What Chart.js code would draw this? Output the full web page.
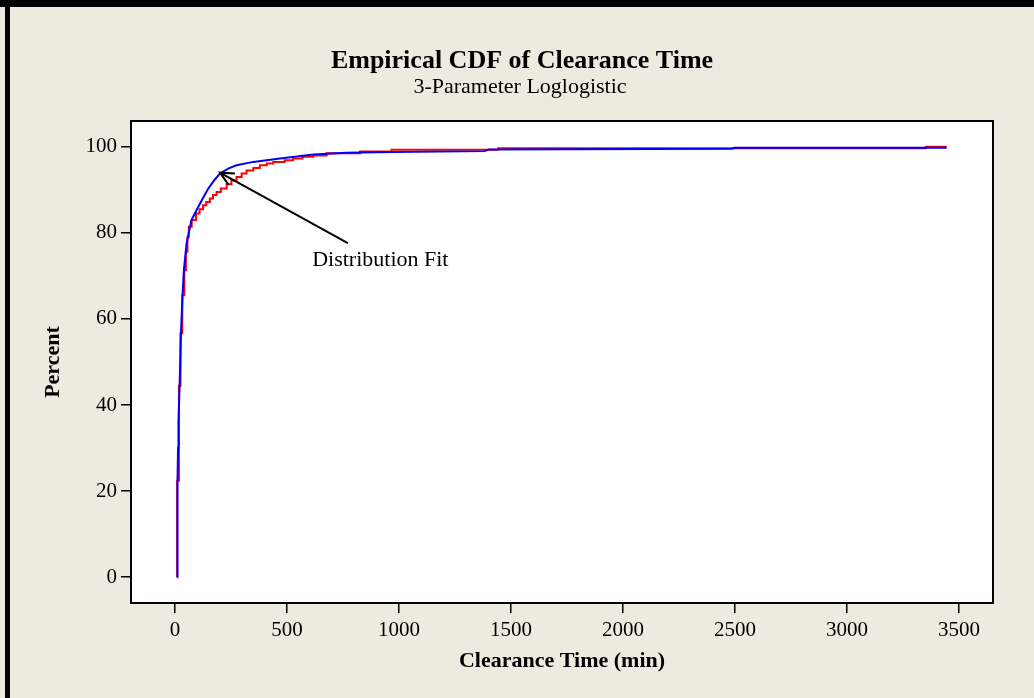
<!DOCTYPE html>
<html>
<head>
<meta charset="utf-8">
<script src="https://cdn.jsdelivr.net/npm/chart.js@4/dist/chart.umd.min.js"></script>
<style>
  html, body { margin: 0; padding: 0; background: #EEEAE0; }
  canvas { display: block; }
</style>
</head>
<body>
<canvas id="c" width="1034" height="698"></canvas>
<script>
// ---- Data ----
const chartTitle = "Empirical CDF of Clearance Time";
const chartSubtitle = "3-Parameter Loglogistic";
const xAxisTitle = "Clearance Time (min)";
const yAxisTitle = "Percent";
const annotationText = "Distribution Fit";

const xTicks = [0, 500, 1000, 1500, 2000, 2500, 3000, 3500];
const yTicks = [0, 20, 40, 60, 80, 100];

// Empirical CDF (red, step)
const empX = [10, 10, 18, 25, 33, 42, 49, 56, 62, 75, 94, 110, 126, 140, 156, 170, 186, 205, 231, 252, 275, 298, 320, 350, 379, 410, 439, 490, 528, 570, 618, 677, 826, 967, 1443, 3352, 3445];
const empY = [0, 22.4, 44.5, 56.7, 65.5, 71.3, 75.6, 79.0, 81.4, 83.0, 84.5, 85.5, 86.4, 87.2, 88.0, 88.8, 89.5, 90.3, 91.3, 92.2, 93.0, 93.8, 94.5, 95.1, 95.7, 96.1, 96.5, 96.9, 97.3, 97.7, 98.0, 98.5, 98.9, 99.3, 99.65, 100, 100];

// Fitted distribution (blue)
const fitX = [10, 11, 12, 14, 16, 21, 27, 34, 40, 52, 74, 97, 120, 149, 175, 201, 240, 275, 350, 469, 618, 640, 766, 975, 1384, 1400, 2485, 2500, 3445];
const fitY = [0, 12, 22, 30, 36, 44.5, 56.7, 65.5, 71.3, 77.5, 83.0, 85.3, 87.6, 90.3, 92.2, 93.8, 95.0, 95.7, 96.5, 97.3, 98.2, 98.3, 98.6, 98.8, 99.0, 99.4, 99.55, 99.8, 99.8];

// ---- Styling / layout constants ----
const BG = "#EEEAE0";
const SERIF = "'Liberation Serif', 'Times New Roman', serif";
const annotation = { tail: { x: 772, y: 77.6 }, head: { x: 201, y: 94.0 }, label: { x: 917, y: 73.7 } };

const toPts = (xs, ys) => xs.map((x, i) => ({ x: x, y: ys[i] }));

const decorPlugin = {
  id: 'decor',
  beforeDraw(chart) {
    const ctx = chart.ctx;
    const W = chart.width, H = chart.height;
    ctx.save();
    ctx.fillStyle = BG;
    ctx.fillRect(0, 0, W, H);
    // outer frame (top and left)
    ctx.fillStyle = "#000";
    ctx.fillRect(0, 0, W, 7);
    ctx.fillRect(5, 0, 5, H);
    // plot area
    const a = chart.chartArea;
    ctx.fillStyle = "#FFFFFF";
    ctx.fillRect(a.left, a.top, a.right - a.left, a.bottom - a.top);
    ctx.restore();
  },
  afterDraw(chart) {
    const ctx = chart.ctx;
    const a = chart.chartArea;
    const xs = chart.scales.x, ys = chart.scales.y;
    ctx.save();
    // plot frame
    ctx.strokeStyle = "#000";
    ctx.lineWidth = 2;
    ctx.strokeRect(a.left, a.top, a.right - a.left, a.bottom - a.top);

    // titles
    ctx.fillStyle = "#000";
    ctx.textAlign = "center";
    ctx.textBaseline = "middle";
    ctx.font = "bold 26px " + SERIF;
    ctx.fillText(chartTitle, 522, 61);
    ctx.font = "22px " + SERIF;
    ctx.fillText(chartSubtitle, 520, 87);

    // axis titles
    ctx.font = "bold 22px " + SERIF;
    ctx.fillText(xAxisTitle, (a.left + a.right) / 2, 661);
    ctx.save();
    ctx.translate(53, (a.top + a.bottom) / 2);
    ctx.rotate(-Math.PI / 2);
    ctx.fillText(yAxisTitle, 0, 0);
    ctx.restore();

    // annotation arrow
    const tx = xs.getPixelForValue(annotation.tail.x), ty = ys.getPixelForValue(annotation.tail.y);
    const hx = xs.getPixelForValue(annotation.head.x), hy = ys.getPixelForValue(annotation.head.y);
    ctx.strokeStyle = "#000";
    ctx.beginPath();
    ctx.moveTo(tx, ty);
    ctx.lineTo(hx, hy);
    const ang = Math.atan2(ty - hy, tx - hx);
    const L = 15, spread = 0.45;
    ctx.moveTo(hx + L * Math.cos(ang + spread), hy + L * Math.sin(ang + spread));
    ctx.lineTo(hx, hy);
    ctx.lineTo(hx + L * Math.cos(ang - spread), hy + L * Math.sin(ang - spread));
    ctx.lineWidth = 2;
    ctx.stroke();

    ctx.font = "22px " + SERIF;
    ctx.textAlign = "center";
    ctx.fillText(annotationText, xs.getPixelForValue(annotation.label.x), ys.getPixelForValue(annotation.label.y));
    ctx.restore();
  }
};

new Chart(document.getElementById('c'), {
  type: 'line',
  data: {
    datasets: [
      {
        label: 'Distribution Fit',
        data: toPts(fitX, fitY),
        borderColor: '#0000FF',
        borderWidth: 2,
        pointRadius: 0,
        fill: false,
        tension: 0
      },
      {
        label: 'Empirical CDF',
        data: toPts(empX, empY),
        borderColor: '#FF0000',
        borderWidth: 2,
        pointRadius: 0,
        fill: false,
        stepped: 'before'
      }
    ]
  },
  options: {
    responsive: false,
    animation: false,
    devicePixelRatio: 1,
    layout: { padding: { left: 0, right: 41, top: 121, bottom: 0 } },
    plugins: {
      legend: { display: false },
      tooltip: { enabled: false },
      title: { display: false }
    },
    scales: {
      x: {
        type: 'linear',
        min: -196,
        max: 3652,
        afterFit(s) { s.height = 95; },
        afterBuildTicks(s) { s.ticks = xTicks.map(v => ({ value: v })); },
        ticks: { color: '#000', font: { family: SERIF, size: 21 }, padding: 5, maxRotation: 0, autoSkip: false,
                 callback: v => String(v) },
        grid: { drawOnChartArea: false, drawTicks: true, tickLength: 10, color: '#000', lineWidth: 1.5 },
        border: { display: true, color: '#000', width: 2 }
      },
      y: {
        type: 'linear',
        min: -6,
        max: 106,
        afterFit(s) { s.width = 131; },
        afterBuildTicks(s) { s.ticks = yTicks.map(v => ({ value: v })); },
        ticks: { color: '#000', font: { family: SERIF, size: 21 }, padding: 4, autoSkip: false,
                 callback: v => String(v) },
        grid: { drawOnChartArea: false, drawTicks: true, tickLength: 10, color: '#000', lineWidth: 1.5 },
        border: { display: true, color: '#000', width: 2 }
      }
    }
  },
  plugins: [decorPlugin]
});
</script>
</body>
</html>
